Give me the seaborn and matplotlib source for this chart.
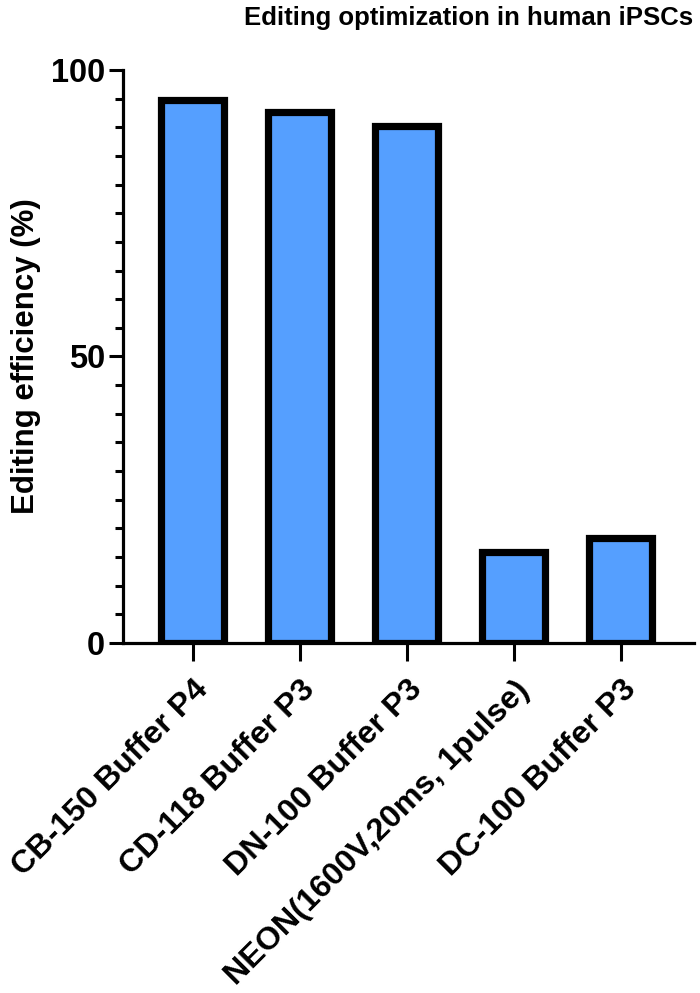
import matplotlib
matplotlib.use("Agg")
import matplotlib.pyplot as plt
import seaborn as sns
import pandas as pd
from matplotlib.ticker import MultipleLocator

categories = ["CB-150 Buffer P4", "CD-118 Buffer P3", "DN-100 Buffer P3",
              "NEON(1600V,20ms, 1pulse)", "DC-100 Buffer P3"]
values = [94.8, 92.6, 90.3, 15.8, 18.3]
yticks = [0, 50, 100]

sns.set_theme(style="ticks")
plt.rcParams['font.family'] = ['Liberation Sans', 'DejaVu Sans']
plt.rcParams['text.color'] = 'black'
plt.rcParams['axes.labelcolor'] = 'black'
plt.rcParams['xtick.color'] = 'black'
plt.rcParams['ytick.color'] = 'black'

df = pd.DataFrame({"cond": categories, "eff": values})

fig = plt.figure(figsize=(7, 9.93), dpi=100)
ax = fig.add_axes([0.1757, 0.3525, 0.8153, 0.577])
sns.barplot(data=df, x="cond", y="eff", color="#559FFF", saturation=1,
            width=0.59, edgecolor="black", linewidth=5.2, ax=ax)

ax.set_ylim(0, 100)
ax.set_xlim(-0.65, 4.68)
ax.set_yticks(yticks)
ax.yaxis.set_minor_locator(MultipleLocator(5))
ax.set_yticklabels([str(t) for t in yticks], fontsize=23.5, fontweight="bold")
ax.set_xticks(range(len(categories)))
ax.set_xticklabels(categories, rotation=45, ha="right", rotation_mode="anchor",
                   fontsize=23.2, fontweight="bold")
ax.set_xlabel("")
ax.set_ylabel("Editing efficiency (%)", fontsize=22.5, fontweight="bold", labelpad=7)

for s in ["top", "right"]:
    ax.spines[s].set_visible(False)
for s in ["left", "bottom"]:
    ax.spines[s].set_linewidth(2.3)
    ax.spines[s].set_color("black")
ax.tick_params(axis="y", which="major", length=10, width=2.2, pad=3)
ax.tick_params(axis="y", which="minor", length=6, width=2.2)
ax.tick_params(axis="x", which="major", length=13, width=2.2, pad=10)

fig.text(0.99, 0.982, "Editing optimization in human iPSCs", ha="right", va="center",
         fontsize=18.5, fontweight="bold")

fig.savefig("out.png", dpi=100)
